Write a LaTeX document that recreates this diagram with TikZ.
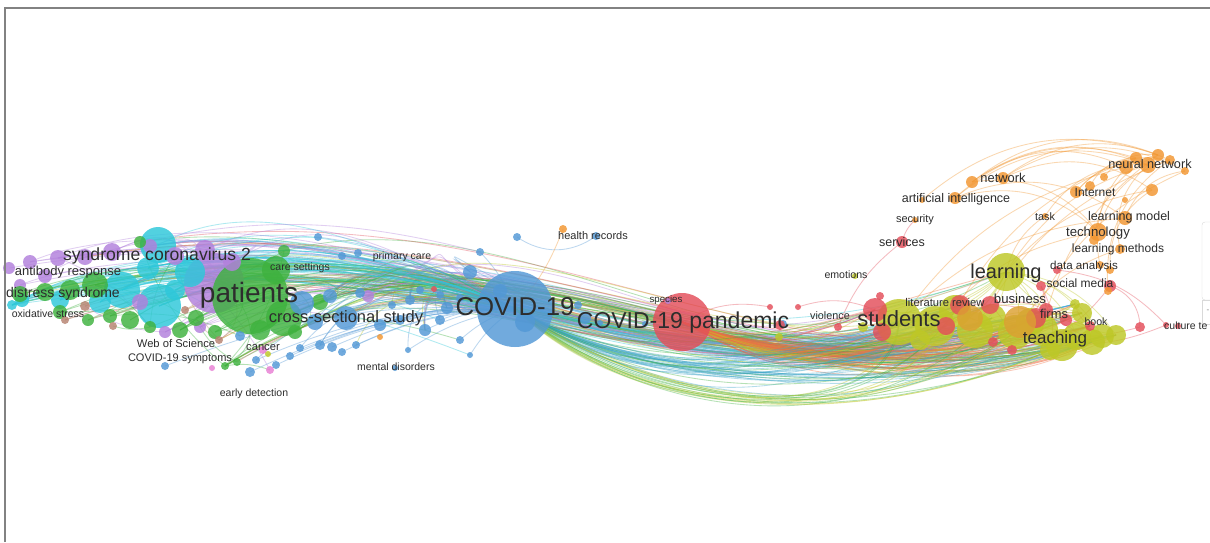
\documentclass[tikz,border=0pt]{standalone}
\usepackage{fontspec}
\setmainfont{Liberation Sans}
\definecolor{vblue}{RGB}{82,152,214}
\definecolor{vcyan}{RGB}{45,200,218}
\definecolor{vgreen}{RGB}{62,178,62}
\definecolor{vpurple}{RGB}{178,128,220}
\definecolor{vred}{RGB}{228,78,90}
\definecolor{vyellow}{RGB}{190,200,38}
\definecolor{vorange}{RGB}{242,150,48}
\definecolor{vbrown}{RGB}{182,130,112}
\definecolor{vpink}{RGB}{232,126,212}
\definecolor{vgold}{RGB}{220,160,50}
\definecolor{vfan}{RGB}{240,112,70}
\definecolor{vteal}{RGB}{60,165,200}
\definecolor{txtc}{RGB}{45,45,45}
\definecolor{framec}{RGB}{130,130,130}
\pgfdeclarelayer{bg}
\pgfsetlayers{bg,main}
\tikzset{
 bub/.style={circle, fill=#1, fill opacity=.82, draw=none, inner sep=0pt},
 ln/.style={draw=#1, draw opacity=.38, line width=.85pt},
 lbl/.style={text=txtc, inner sep=0pt, anchor=base},
 fs/.style={font=\fontsize{#1}{#1}\selectfont},
}
\begin{document}
\begin{tikzpicture}[x=1pt,y=-1pt]
\useasboundingbox (0,0) rectangle (1210,542);
\begin{pgfonlayer}{bg}
\fill[white] (0,0) rectangle (1210,542);
\end{pgfonlayer}
\pgfmathsetseed{4242}
% ---------- big nodes ----------
\node[bub=vpurple, minimum size=60] (bigpurple) at (214,283) {};
\node[bub=vcyan, minimum size=30] (cyanA) at (190,272) {};
\node[bub=vgreen, minimum size=76] (patients) at (250,296) {};
\node[bub=vgreen, minimum size=36] (greenB) at (284,318) {};
\node[bub=vgreen, minimum size=28] (greenC) at (276,270) {};
\node[bub=vblue, minimum size=76] (covid) at (515,309) {};
\node[bub=vred, minimum size=58] (pandemic) at (682,322) {};
% ---------- left cluster ----------
\foreach \xx/\yy/\rr/\cl [count=\i] in {
158/245/18/vcyan, 159/306/22/vcyan, 122/290/18/vcyan, 100/302/11/vcyan, 60/300/9/vcyan,
22/300/7/vcyan, 148/268/11/vcyan, 12/305/5/vcyan, 175/290/10/vcyan,
205/250/10/vpurple, 232/262/9/vpurple, 175/256/9/vpurple, 150/246/7/vpurple, 112/252/9/vpurple,
85/257/8/vpurple, 58/258/8/vpurple, 30/262/7/vpurple, 9/268/6/vpurple, 20/285/6/vpurple,
45/276/7/vpurple, 140/302/8/vpurple, 165/332/6/vpurple, 200/327/6/vpurple, 368/296/6/vpurple,
95/285/13/vgreen, 70/290/10/vgreen, 45/292/9/vgreen, 20/294/8/vgreen, 284/251/6/vgreen,
140/242/6/vgreen, 295/332/7/vgreen, 320/302/8/vgreen, 180/330/8/vgreen, 196/318/8/vgreen,
215/332/7/vgreen, 130/320/9/vgreen, 110/316/7/vgreen, 150/327/6/vgreen, 225/366/4/vgreen,
88/320/6/vgreen, 237/362/4/vgreen, 260/330/10/vgreen, 60/312/7/vgreen,
65/320/4/vbrown, 85/306/5/vbrown, 113/326/4/vbrown, 219/340/4/vbrown, 185/310/4/vbrown,
346/318/12/vblue, 302/303/12/vblue, 315/322/8/vblue, 330/296/7/vblue, 360/293/5/vblue,
380/325/6/vblue, 400/320/5/vblue, 410/300/5/vblue, 425/330/6/vblue, 440/320/5/vblue,
447/308/6/vblue, 460/298/4/vblue, 392/305/4/vblue, 320/345/5/vblue, 332/347/5/vblue,
342/352/4/vblue, 356/345/4/vblue, 290/356/4/vblue, 300/348/4/vblue, 276/365/4/vblue,
250/372/5/vblue, 256/360/4/vblue, 165/366/4/vblue, 240/336/5/vblue, 318/237/4/vblue,
342/256/4/vblue, 358/253/4/vblue, 470/272/7/vblue, 480/252/4/vblue, 440/295/4/vblue,
420/290/4/vblue, 460/340/4/vblue, 470/355/3/vblue, 408/350/3/vblue, 395/368/3/vblue,
270/370/4/vpink, 263/350/4/vpink, 212/368/3/vpink, 434/289/3/vred, 380/337/3/vorange,
268/354/3/vyellow}{
  \node[bub=\cl, minimum size={2*\rr}] (L\i) at (\xx,\yy) {};
  \expandafter\xdef\csname colL\i\endcsname{\cl}
  \xdef\NL{\i}
}
% ---------- middle nodes ----------
\foreach \xx/\yy/\rr/\cl [count=\i] in {
517/237/4/vblue, 596/236/4/vblue, 563/229/4/vorange, 578/305/4/vblue, 585/318/6/vblue,
600/323/3/vblue, 645/324/3/vblue, 783/324/4/vblue, 770/307/3/vred, 798/307/3/vred,
780/325/5/vred, 838/327/4/vred, 779/337/4/vyellow, 855/276/3/vyellow, 863/327/5/vyellow,
500/291/7/vblue, 525/322/10/vblue, 668/301/3/vpurple}{
  \node[bub=\cl, minimum size={2*\rr}] (M\i) at (\xx,\yy) {};
}
% ---------- right cluster ----------
\foreach \xx/\yy/\rr/\cl [count=\i] in {
1006/272/19/vyellow, 899/322/23/vyellow, 935/326/20/vyellow, 955/311/16/vyellow, 975/330/18/vyellow,
992/318/14/vyellow, 1015/332/17/vyellow, 1042/330/16/vyellow, 1062/345/16/vyellow, 1077/336/14/vyellow,
1092/342/13/vyellow, 1102/336/12/vyellow, 1116/335/10/vyellow, 1082/313/10/vyellow, 1030/322/14/vyellow,
1075/304/5/vyellow, 920/340/10/vyellow, 1050/350/10/vyellow, 875/310/12/vred, 882/332/9/vred,
960/305/10/vred, 946/326/9/vred, 990/305/9/vred, 1036/318/10/vred, 1046/310/7/vred,
993/342/5/vred, 1012/350/5/vred, 1066/320/6/vred, 1090/326/5/vred, 1110/286/6/vred,
1041/286/5/vred, 1057/270/4/vred, 1140/327/5/vred, 1166/325/3/vred, 1178/326/3/vred,
902/242/6/vred, 880/296/4/vred, 1020/322/16/vgold, 970/318/13/vgold}{
  \node[bub=\cl, minimum size={2*\rr}] (R\i) at (\xx,\yy) {};
  \expandafter\xdef\csname colR\i\endcsname{\cl}
}
% ---------- orange cluster ----------
\foreach \xx/\yy/\rr [count=\i] in {
972/182/6, 1003/178/6, 955/198/6, 922/200/3, 1076/192/6, 1090/186/5, 1104/177/4, 1126/167/7,
1136/158/6, 1148/165/8, 1158/155/6, 1170/160/5, 1185/171/4, 1152/190/6, 1125/200/3, 1098/232/9,
1094/240/5, 1120/249/5, 1125/218/7, 1110/270/4, 1108/291/4, 1045/216/3, 1100/265/4, 915/220/3}{
  \node[bub=vorange, minimum size={2*\rr}] (O\i) at (\xx,\yy) {};
}
% ---------- edges ----------
\begin{pgfonlayer}{bg}
% long S edges through COVID-19 (mostly cyan and blue sources)
\foreach \k in {1,...,95}{
  \pgfmathtruncatemacro{\mm}{mod(\k,4)}
  \ifcase\mm
    \pgfmathrandominteger{\ia}{1}{\NL}
  \or
    \pgfmathrandominteger{\ia}{1}{9}
  \or
    \pgfmathrandominteger{\ia}{51}{62}
  \else
    \pgfmathrandominteger{\ia}{1}{50}
  \fi
  \pgfmathrandominteger{\ib}{1}{29}
  \pgfmathtruncatemacro{\mn}{mod(\k,5)}
  \ifnum\mn=0 \edef\cc{\csname colR\ib\endcsname}\else\edef\cc{\csname colL\ia\endcsname}\fi
  \draw[ln=\cc] (L\ia.center) .. controls ({390+30*rnd},{198+16*rnd}) and ({605+45*rnd},{405+30*rnd}) .. (R\ib.center);
}
% top edges through COVID-19 pandemic
\foreach \k in {1,...,50}{
  \pgfmathrandominteger{\ia}{9}{50}
  \pgfmathrandominteger{\ib}{1}{29}
  \pgfmathtruncatemacro{\mm}{mod(\k,3)}
  \ifnum\mm=0 \edef\cc{\csname colR\ib\endcsname}\else\edef\cc{\csname colL\ia\endcsname}\fi
  \draw[ln=\cc] (L\ia.center) .. controls ({495+35*rnd},{178+16*rnd}) and ({750+45*rnd},{410+28*rnd}) .. (R\ib.center);
}
% pandemic fan
\foreach \k in {1,...,70}{
  \pgfmathrandominteger{\ib}{1}{29}
  \pgfmathtruncatemacro{\mm}{mod(\k,3)}
  \ifnum\mm=0 \edef\cc{\csname colR\ib\endcsname}\else\def\cc{vfan}\fi
  \draw[ln=\cc] (pandemic.center) .. controls +({75+25*rnd},{30+12*rnd}) and +({-110-50*rnd},{30+45*rnd}) .. (R\ib.center);
}
% left cluster to COVID-19
\foreach \k in {1,...,55}{
  \pgfmathtruncatemacro{\mm}{mod(\k,2)}
  \ifnum\mm=0 \pgfmathrandominteger{\ia}{1}{9}\else\pgfmathrandominteger{\ia}{1}{52}\fi
  \edef\cc{\csname colL\ia\endcsname}
  \draw[ln=\cc] (L\ia.center) .. controls +({90+40*rnd},{-45-35*rnd}) and +({-110-30*rnd},{-35-35*rnd}) .. (covid.center);
}
% blue nodes near COVID-19
\foreach \k in {51,...,82}{
  \draw[ln=vblue] (L\k.center) to[bend left=12] (covid.center);
}
% COVID-19 to right
\foreach \k in {1,...,40}{
  \pgfmathrandominteger{\ib}{1}{29}
  \pgfmathtruncatemacro{\mm}{mod(\k,5)}
  \ifnum\mm=0 \def\cc{vgreen}\else\def\cc{vteal}\fi
  \draw[ln=\cc] (covid.center) .. controls +({100+25*rnd},{62+20*rnd}) and +({-170-60*rnd},{50+40*rnd}) .. (R\ib.center);
}
% faint low yellow/green lines
\foreach \k in {1,...,18}{
  \pgfmathrandominteger{\ib}{1}{18}
  \pgfmathtruncatemacro{\mm}{mod(\k,2)}
  \ifnum\mm=0 \def\cc{vgreen}\else\def\cc{vyellow}\fi
  \draw[ln=\cc] (covid.center) .. controls ({640+40*rnd},{410+25*rnd}) and ({860+50*rnd},{425+20*rnd}) .. (R\ib.center);
}
% patients to far left
\foreach \k in {1,...,25}{
  \pgfmathrandominteger{\ia}{1}{50}
  \edef\cc{\csname colL\ia\endcsname}
  \draw[ln=\cc] (patients.center) .. controls +({-50-30*rnd},{-30-25*rnd}) and +({50+30*rnd},{-20-20*rnd}) .. (L\ia.center);
}
% left internal
\foreach \k in {1,...,25}{
  \pgfmathrandominteger{\ia}{1}{50}
  \pgfmathrandominteger{\ib}{1}{\NL}
  \edef\cc{\csname colL\ia\endcsname}
  \draw[ln=\cc] (L\ia.center) to[bend left=15] (L\ib.center);
}
% right internal
\foreach \k in {1,...,40}{
  \pgfmathrandominteger{\ia}{1}{39}
  \pgfmathrandominteger{\ib}{1}{29}
  \edef\cc{\csname colR\ia\endcsname}
  \draw[ln=\cc] (R\ia.center) to[bend left=20] (R\ib.center);
}
% learning to others
\foreach \k in {2,3,5,7,9,10,12,13,17,19,22,24,29}{
  \draw[ln=vyellow] (R1.center) to[bend left=25] (R\k.center);
}
% orange cluster arcs
\foreach \p/\q in {1/11,1/10,2/12,3/10,3/9,1/8,2/13,5/10,6/9,7/11,3/19,3/16,1/16,4/11,2/14,22/10,5/12,16/12,19/13,17/11,18/10,23/9,20/14,21/12}{
  \draw[ln=vorange] (O\p.center) to[bend left=30] (O\q.center);
}
\foreach \p/\q in {10/1,14/1,8/2,12/5,16/3,19/2,22/1,9/4,18/7,11/8,13/15}{
  \draw[ln=vorange] (O\p.center) to[bend right=20] (R\q.center);
}
% special single edges
\draw[ln=vred] (R36.center) to[bend right=15] (M12.center);
\draw[ln=vred] (R30.center) to[bend left=35] (R33.center);
\draw[ln=vred] (R32.center) to[bend left=20] (R34.center);
\draw[ln=vblue] (M1.center) to[bend right=35] (M2.center);
\draw[ln=vorange] (M3.center) to[bend left=10] (covid.center);
\draw[ln=vred] (M9.center) to[bend right=20] (pandemic.center);
\draw[ln=vred] (M10.center) to[bend left=20] (R19.center);
\draw[ln=vyellow] (M13.center) to[bend right=10] (R2.center);
\draw[ln=vred] (O24.center) to[bend right=15] (R36.center);
\end{pgfonlayer}
% ---------- frame and side panel ----------
\draw[framec, line width=1.6pt] (5,542) -- (5,8) -- (1210,8);
\draw[gray!30, fill=white, rounded corners=3pt] (1202,222) rectangle (1240,300);
\draw[gray!30, fill=white] (1202,300) rectangle (1240,324);
\node[text=gray, fs=8, inner sep=0pt] (pmark) at (1208,311) {-};
% ---------- labels ----------
\node[lbl, fs=17.6] (t1) at (157,260) {syndrome coronavirus 2};
\node[lbl, fs=13] (t2) at (68,275) {antibody response};
\node[lbl, fs=14] (t3) at (63,297) {distress syndrome};
\node[lbl, fs=10.5] (t4) at (48,317) {oxidative stress};
\node[lbl, fs=28] (t5) at (249,302) {patients};
\node[lbl, fs=10.5] (t6) at (300,270) {care settings};
\node[lbl, fs=10.5] (t7) at (402,259) {primary care};
\node[lbl, fs=16.5] (t8) at (346,322) {cross-sectional study};
\node[lbl, fs=11.2] (t9) at (176,347) {Web of Science};
\node[lbl, fs=11] (t10) at (180,361) {COVID-19 symptoms};
\node[lbl, fs=11.2] (t11) at (263,350) {cancer};
\node[lbl, fs=10.5] (t12) at (396,370) {mental disorders};
\node[lbl, fs=10.5] (t13) at (254,396) {early detection};
\node[lbl, fs=11] (t14) at (593,239) {health records};
\node[lbl, fs=25.8] (t15) at (515,315) {COVID-19};
\node[lbl, fs=9.7] (t16) at (666,302) {species};
\node[lbl, fs=23] (t17) at (683,328) {COVID-19 pandemic};
\node[lbl, fs=10.8] (t18) at (830,319) {violence};
\node[lbl, fs=10.6] (t19) at (846,278) {emotions};
\node[lbl, fs=12.5] (t20) at (902,246) {services};
\node[lbl, fs=11] (t21) at (915,222) {security};
\node[lbl, fs=12.5] (t22) at (956,202) {artificial intelligence};
\node[lbl, fs=12.9] (t23) at (1003,182) {network};
\node[lbl, fs=12.7] (t24) at (1150,168) {neural network};
\node[lbl, fs=12] (t25) at (1095,196) {Internet};
\node[lbl, fs=10.8] (t26) at (1045,220) {task};
\node[lbl, fs=12.5] (t27) at (1129,220) {learning model};
\node[lbl, fs=13.2] (t28) at (1098,236) {technology};
\node[lbl, fs=12] (t29) at (1118,252) {learning methods};
\node[lbl, fs=20] (t30) at (1006,278) {learning};
\node[lbl, fs=11.6] (t31) at (1084,269) {data analysis};
\node[lbl, fs=12] (t32) at (1080,287) {social media};
\node[lbl, fs=11.2] (t33) at (945,306) {literature review};
\node[lbl, fs=13.2] (t34) at (1020,303) {business};
\node[lbl, fs=22] (t35) at (899,326) {students};
\node[lbl, fs=12.9] (t36) at (1054,318) {firms};
\node[lbl, fs=10.6] (t37) at (1096,325) {book};
\node[lbl, fs=17] (t38) at (1055,343) {teaching};
\node[lbl, fs=10.5, anchor=base west] (t39) at (1164,329) {culture te};
\end{tikzpicture}
\end{document}
